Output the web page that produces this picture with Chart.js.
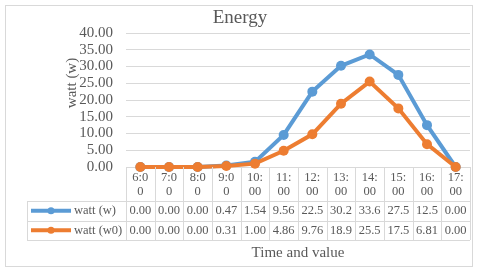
<!DOCTYPE html>
<html>
<head>
<meta charset="utf-8">
<script src="https://cdn.jsdelivr.net/npm/chart.js@4/dist/chart.umd.min.js"></script>
<style>
    html, body { margin: 0; padding: 0; background: #ffffff; }
    #wrap { width: 480px; height: 272px; position: relative; }
</style>
</head>
<body>
<div id="wrap"><canvas id="energyChart"></canvas></div>
<script>
const TIME_LABELS = ['6:00', '7:00', '8:00', '9:00', '10:00', '11:00', '12:00', '13:00', '14:00', '15:00', '16:00', '17:00'];
const WATT_W = [0.00, 0.00, 0.00, 0.47, 1.54, 9.56, 22.5, 30.2, 33.6, 27.5, 12.5, 0.00];
const WATT_W0 = [0.00, 0.00, 0.00, 0.31, 1.00, 4.86, 9.76, 18.9, 25.5, 17.5, 6.81, 0.00];
const Y_TICKS = [0, 5, 10, 15, 20, 25, 30, 35, 40];

const SERIES_NAMES = ['watt (w)', 'watt (w0)'];
const CHART_TITLE = 'Energy';
const Y_TITLE = 'watt (w)';
const X_TITLE = 'Time and value';

const BLUE = '#5b9bd5';
const ORANGE = '#ed7d31';
const TEXT = '#595959';
const GRID = '#d9d9d9';
const FONT = "'Liberation Serif', 'Times New Roman', serif";

// Excel shows 3 significant digits in the data table
function fmtCell(v) {
    return v >= 10 ? v.toFixed(1) : v.toFixed(2);
}

// background, outer frame, titles and the data table under the plot
const excelFrame = {
    id: 'excelFrame',
    beforeDraw(chart) {
        const ctx = chart.ctx;
        ctx.save();
        ctx.fillStyle = '#ffffff';
        ctx.fillRect(0, 0, chart.width, chart.height);
        ctx.strokeStyle = GRID;
        ctx.lineWidth = 1;
        ctx.strokeRect(5.5, 5.5, 467, 261);
        ctx.restore();
    },
    afterDraw(chart) {
        const ctx = chart.ctx;
        const area = chart.chartArea;
        const xs = chart.scales.x;
        const n = TIME_LABELS.length;
        const colW = area.width / n;
        const tableLeft = 27;
        const rowTop = area.bottom + 34;
        const rowH = 19.5;

        ctx.save();
        ctx.fillStyle = TEXT;
        ctx.textBaseline = 'middle';

        // chart title
        ctx.font = '19px ' + FONT;
        ctx.textAlign = 'center';
        ctx.fillText(CHART_TITLE, 240, 18);

        // y axis title
        ctx.save();
        ctx.font = '15px ' + FONT;
        ctx.translate(72, 83);
        ctx.rotate(-Math.PI / 2);
        ctx.fillText(Y_TITLE, 0, 0);
        ctx.restore();

        // x axis title
        ctx.font = '15px ' + FONT;
        ctx.fillText(X_TITLE, (area.left + area.right) / 2, 253);

        // table grid
        ctx.strokeStyle = GRID;
        ctx.lineWidth = 1;
        ctx.beginPath();
        for (let i = 0; i <= n; i++) {
            const x = Math.round(area.left + i * colW) + 0.5;
            ctx.moveTo(x, area.bottom);
            ctx.lineTo(x, rowTop + 2 * rowH);
        }
        for (let r = 0; r <= 2; r++) {
            const y = Math.round(rowTop + r * rowH) + 0.5;
            ctx.moveTo(tableLeft, y);
            ctx.lineTo(area.right, y);
        }
        ctx.moveTo(tableLeft + 0.5, rowTop);
        ctx.lineTo(tableLeft + 0.5, rowTop + 2 * rowH);
        ctx.stroke();

        // category labels, wrapped like the narrow excel columns
        ctx.font = '12.5px ' + FONT;
        ctx.textAlign = 'center';
        TIME_LABELS.forEach((lbl, i) => {
            const cx = xs.getPixelForValue(i);
            ctx.fillText(lbl.slice(0, 3), cx, area.bottom + 11);
            ctx.fillText(lbl.slice(3), cx, area.bottom + 25);
        });

        // data rows
        const rows = [WATT_W, WATT_W0];
        const colors = [BLUE, ORANGE];
        rows.forEach((vals, r) => {
            const cy = rowTop + r * rowH + rowH / 2;
            // legend key
            ctx.strokeStyle = colors[r];
            ctx.lineWidth = 4;
            ctx.beginPath();
            ctx.moveTo(31, cy);
            ctx.lineTo(71, cy);
            ctx.stroke();
            ctx.fillStyle = colors[r];
            ctx.beginPath();
            ctx.arc(51, cy, 3.5, 0, Math.PI * 2);
            ctx.fill();

            ctx.fillStyle = TEXT;
            ctx.textAlign = 'left';
            ctx.fillText(SERIES_NAMES[r], 74, cy);
            ctx.textAlign = 'center';
            vals.forEach((v, i) => {
                ctx.fillText(fmtCell(v), xs.getPixelForValue(i), cy);
            });
        });
        ctx.restore();
    }
};

function initChart() {
    const ctx = document.getElementById('energyChart').getContext('2d');
    return new Chart(ctx, {
        type: 'line',
        data: {
            labels: TIME_LABELS,
            datasets: [
                {
                    label: SERIES_NAMES[0],
                    data: WATT_W,
                    borderColor: BLUE,
                    backgroundColor: BLUE,
                    borderWidth: 4,
                    pointRadius: 5,
                    pointBorderWidth: 0,
                    tension: 0,
                    clip: false,
                    order: 2
                },
                {
                    label: SERIES_NAMES[1],
                    data: WATT_W0,
                    borderColor: ORANGE,
                    backgroundColor: ORANGE,
                    borderWidth: 4,
                    pointRadius: 5,
                    pointBorderWidth: 0,
                    tension: 0,
                    clip: false,
                    order: 1 // orange sits on top, like excel
                }
            ]
        },
        options: {
            responsive: true,
            maintainAspectRatio: false,
            animation: false,
            layout: { padding: { top: 33, left: 0, right: 10, bottom: 105 } },
            plugins: {
                legend: { display: false },
                title: { display: false },
                tooltip: { enabled: false }
            },
            scales: {
                x: { type: 'category', offset: true, display: false },
                y: {
                    min: Y_TICKS[0],
                    max: Y_TICKS[Y_TICKS.length - 1],
                    afterBuildTicks: (scale) => {
                        scale.ticks = Y_TICKS.map(v => ({ value: v }));
                    },
                    afterFit: (scale) => { scale.width = 126; },
                    border: { display: false },
                    grid: { color: GRID, drawTicks: false },
                    ticks: {
                        color: TEXT,
                        padding: 13,
                        autoSkip: false,
                        font: { family: FONT, size: 15 },
                        callback: (v) => Number(v).toFixed(2)
                    }
                }
            }
        },
        plugins: [excelFrame]
    });
}

initChart();
</script>
</body>
</html>
